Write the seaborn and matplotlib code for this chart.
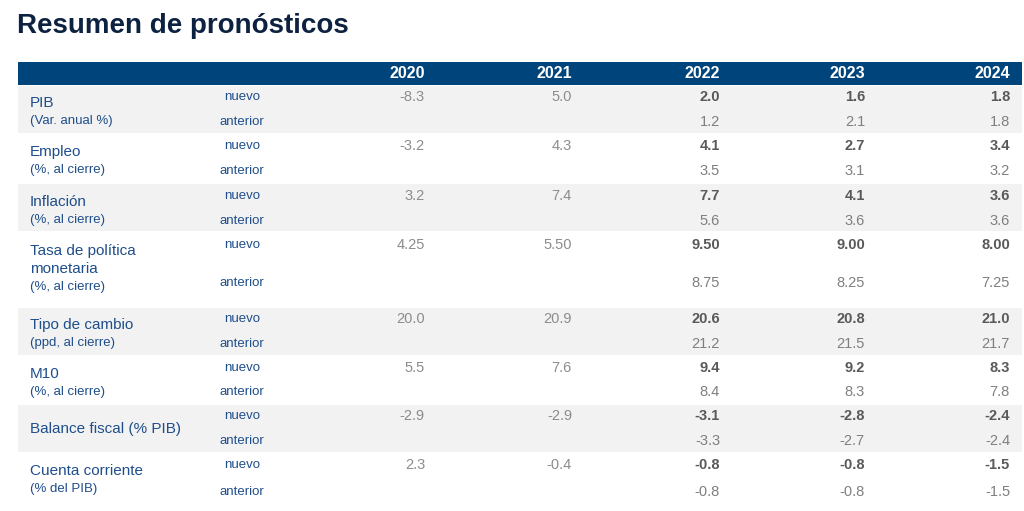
import matplotlib
matplotlib.use("Agg")
import matplotlib.pyplot as plt
import seaborn as sns

sns.set_theme(style="white", font="Liberation Sans")

years = ["2020", "2021", "2022", "2023", "2024"]
indicators = ["PIB\n(Var. anual %)", "Empleo\n(%, al cierre)", "Inflación\n(%, al cierre)",
              "Tasa de política\nmonetaria\n(%, al cierre)", "Tipo de cambio\n(ppd, al cierre)",
              "M10\n(%, al cierre)", "Balance fiscal (% PIB)", "Cuenta corriente\n(% del PIB)"]
nuevo = [["-8.3", "5.0", "2.0", "1.6", "1.8"],
         ["-3.2", "4.3", "4.1", "2.7", "3.4"],
         ["3.2", "7.4", "7.7", "4.1", "3.6"],
         ["4.25", "5.50", "9.50", "9.00", "8.00"],
         ["20.0", "20.9", "20.6", "20.8", "21.0"],
         ["5.5", "7.6", "9.4", "9.2", "8.3"],
         ["-2.9", "-2.9", "-3.1", "-2.8", "-2.4"],
         ["2.3", "-0.4", "-0.8", "-0.8", "-1.5"]]
anterior = [["1.2", "2.1", "1.8"],
            ["3.5", "3.1", "3.2"],
            ["5.6", "3.6", "3.6"],
            ["8.75", "8.25", "7.25"],
            ["21.2", "21.5", "21.7"],
            ["8.4", "8.3", "7.8"],
            ["-3.3", "-2.7", "-2.4"],
            ["-0.8", "-0.8", "-1.5"]]

# layout (pixels)
bands = [(85, 134), (134, 183), (183, 232), (232, 307), (307, 356), (356, 404), (404, 453), (453, 505)]
y_nuevo = [97, 146, 196, 245, 319, 368, 416, 465]
y_ant = [122, 171, 221, 283, 344, 392, 441, 492]
col_x = [425, 572, 720, 865, 1010]

NAVY = "#00447c"
BLUE = "#1f4e8c"
fig = plt.figure(figsize=(10.24, 5.11), dpi=100)
ax = fig.add_axes([0, 0, 1, 1])
ax.set_xlim(0, 1024)
ax.set_ylim(511, 0)
ax.axis("off")

ax.text(17, 26, "Resumen de pronósticos", fontsize=20, fontweight="bold", color="#0d2240", va="center")
ax.add_patch(plt.Rectangle((18, 62), 1004, 23, color=NAVY, lw=0))
for x, yv in zip(col_x, years):
    ax.text(x, 74, yv, color="white", fontweight="bold", fontsize=11.5, ha="right", va="center")

for i, (y0, y1) in enumerate(bands):
    if i % 2 == 0:
        ax.add_patch(plt.Rectangle((18, y0 + 1), 1004, y1 - y0 - 2, color="#f2f2f2", lw=0))
    lines = indicators[i].split("\n")
    if len(lines) == 1:
        ax.text(30, (y_nuevo[i] + y_ant[i]) / 2, lines[0], fontsize=11, color=BLUE, va="center")
    else:
        ly = y_nuevo[i] + 6
        for j, ln in enumerate(lines):
            sub = ln.startswith("(")
            ax.text(30, ly, ln, fontsize=9.5 if sub else 11, color=BLUE, va="center")
            ly += 18
    ax.text(242, y_nuevo[i], "nuevo", fontsize=9.5, color=BLUE, ha="center", va="center")
    ax.text(242, y_ant[i], "anterior", fontsize=9.5, color=BLUE, ha="center", va="center")
    for k, v in enumerate(nuevo[i]):
        if k < 2:
            ax.text(col_x[k], y_nuevo[i], v, fontsize=10.5, color="#8c8c8c", ha="right", va="center")
        else:
            ax.text(col_x[k], y_nuevo[i], v, fontsize=10.5, color="#595959", fontweight="bold", ha="right", va="center")
    for k, v in enumerate(anterior[i]):
        ax.text(col_x[k + 2], y_ant[i], v, fontsize=10.5, color="#7f7f7f", ha="right", va="center")

fig.savefig("out.png", dpi=100)
